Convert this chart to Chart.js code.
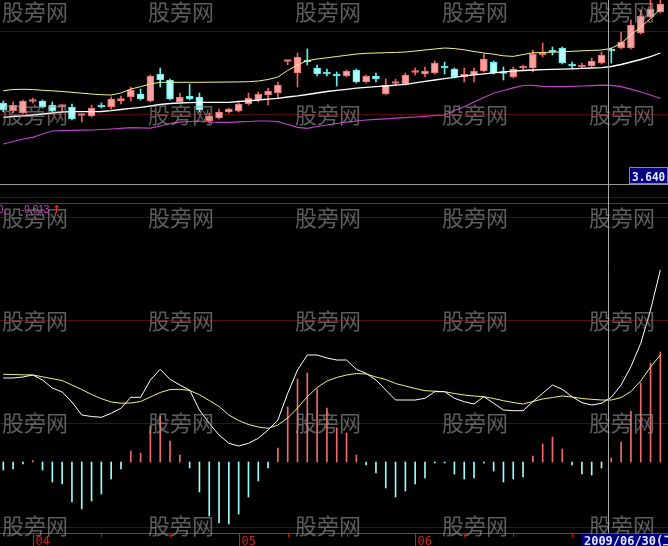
<!DOCTYPE html>
<html><head><meta charset="utf-8">
<script src="https://cdn.jsdelivr.net/npm/chart.js@4"></script>
<style>html,body{margin:0;padding:0;background:#000;overflow:hidden}canvas{display:block}</style>
</head><body>
<canvas id="c" width="668" height="546"></canvas>
<script>
// ---- price candles (one per trading day) ----
const opens = [4.36,4.28,4.26,4.375,4.38,4.34,4.325,4.32,4.235,4.23,
  4.34,4.32,4.38,4.42,4.45,4.38,4.65,4.59,4.37,4.43,
  4.42,4.18,4.21,4.27,4.28,4.35,4.39,4.44,4.46,4.775,
  4.66,4.79,4.71,4.67,4.65,4.63,4.69,4.57,4.63,4.45,
  4.555,4.55,4.665,4.65,4.66,4.73,4.70,4.62,4.64,4.68,
  4.77,4.67,4.62,4.71,4.71,4.84,4.89,4.91,4.75,4.72,
  4.73,4.76,4.90,4.91,4.91,5.06,5.22,5.27];
const highs = [4.38,4.37,4.39,4.41,4.39,4.37,4.34,4.35,4.25,4.34,
  4.36,4.42,4.43,4.52,4.50,4.64,4.71,4.60,4.46,4.55,
  4.46,4.26,4.30,4.31,4.36,4.46,4.47,4.51,4.57,4.79,
  4.86,4.90,4.74,4.70,4.67,4.69,4.70,4.64,4.66,4.60,
  4.60,4.66,4.71,4.72,4.78,4.77,4.71,4.71,4.71,4.85,
  4.78,4.72,4.72,4.74,4.89,4.96,4.92,4.92,4.77,4.76,
  4.81,4.87,4.91,5.07,5.19,5.29,5.41,5.44];
const lows = [4.27,4.26,4.25,4.36,4.31,4.27,4.28,4.19,4.17,4.22,
  4.31,4.30,4.35,4.38,4.39,4.37,4.52,4.39,4.37,4.39,
  4.27,4.16,4.20,4.26,4.27,4.34,4.37,4.34,4.41,4.74,
  4.52,4.74,4.63,4.63,4.53,4.62,4.56,4.56,4.57,4.44,
  4.54,4.54,4.64,4.62,4.65,4.65,4.61,4.57,4.57,4.67,
  4.65,4.59,4.61,4.69,4.67,4.82,4.84,4.75,4.70,4.71,
  4.72,4.75,4.76,4.90,4.90,5.05,5.21,5.26];
const closes = [4.29,4.34,4.38,4.39,4.32,4.28,4.34,4.20,4.25,4.31,
  4.32,4.40,4.403,4.49,4.40,4.63,4.59,4.40,4.42,4.40,
  4.29,4.23,4.27,4.30,4.35,4.41,4.45,4.48,4.54,4.79,
  4.82,4.77,4.65,4.65,4.63,4.68,4.57,4.63,4.60,4.54,
  4.57,4.64,4.68,4.68,4.76,4.71,4.62,4.65,4.68,4.80,
  4.66,4.655,4.70,4.73,4.85,4.86,4.87,4.76,4.73,4.74,
  4.78,4.84,4.88,4.97,5.14,5.23,5.30,5.35];
// ---- Bollinger bands ----
const bollUpper = [4.483,4.495,4.497,4.495,4.487,4.482,4.475,4.467,4.458,4.450,
  4.443,4.440,4.460,4.500,4.523,4.550,4.567,4.567,4.567,4.567,
  4.567,4.568,4.569,4.570,4.571,4.573,4.580,4.595,4.620,4.685,
  4.740,4.783,4.800,4.812,4.825,4.837,4.850,4.857,4.860,4.863,
  4.866,4.870,4.880,4.890,4.900,4.910,4.904,4.892,4.875,4.860,
  4.848,4.832,4.826,4.845,4.862,4.865,4.868,4.872,4.877,4.882,
  4.886,4.890,4.907,4.957,5.040,5.120,5.205,5.300];
const bollMid = [4.217,4.225,4.232,4.240,4.250,4.260,4.270,4.273,4.273,4.273,
  4.275,4.283,4.295,4.306,4.317,4.330,4.345,4.355,4.360,4.364,
  4.367,4.367,4.367,4.367,4.375,4.381,4.390,4.398,4.407,4.420,
  4.431,4.445,4.460,4.475,4.487,4.497,4.508,4.517,4.524,4.530,
  4.538,4.547,4.562,4.576,4.590,4.603,4.617,4.632,4.642,4.652,
  4.662,4.671,4.678,4.685,4.690,4.693,4.696,4.699,4.702,4.706,
  4.710,4.713,4.725,4.745,4.770,4.795,4.823,4.860];
const bollLower = [3.950,3.975,4.000,4.017,4.050,4.080,4.084,4.086,4.088,4.090,
  4.095,4.100,4.107,4.113,4.111,4.108,4.130,4.155,4.168,4.175,
  4.180,4.170,4.167,4.167,4.171,4.175,4.180,4.180,4.174,4.145,
  4.117,4.107,4.125,4.140,4.155,4.168,4.180,4.190,4.196,4.202,
  4.208,4.214,4.220,4.227,4.235,4.240,4.285,4.323,4.370,4.415,
  4.458,4.485,4.512,4.535,4.537,4.527,4.523,4.523,4.526,4.530,
  4.534,4.539,4.537,4.523,4.498,4.470,4.440,4.405];
// ---- MACD ----
const dif = [0.084,0.084,0.085,0.087,0.082,0.074,0.070,0.060,0.047,0.0455,
  0.0447,0.0487,0.0537,0.0647,0.0647,0.082,0.0927,0.0827,0.077,0.072,
  0.052,0.0387,0.027,0.0187,0.016,0.0187,0.0237,0.032,0.042,0.0687,
  0.092,0.107,0.107,0.104,0.102,0.102,0.0927,0.0887,0.082,0.072,
  0.062,0.062,0.062,0.0637,0.0703,0.0703,0.0637,0.0603,0.058,0.0653,
  0.0587,0.052,0.0513,0.0513,0.0603,0.0687,0.077,0.0727,0.0653,0.0593,
  0.057,0.0587,0.0647,0.077,0.0953,0.1187,0.152,0.192];
const dea = [0.0877,0.0875,0.0872,0.087,0.0852,0.0833,0.0815,0.077,0.0725,0.0675,
  0.0633,0.060,0.0588,0.059,0.0605,0.065,0.0695,0.0725,0.0727,0.0715,
  0.0673,0.0615,0.0555,0.047,0.0415,0.0375,0.035,0.0337,0.037,0.044,
  0.054,0.0653,0.0745,0.081,0.0845,0.087,0.0885,0.088,0.085,0.0825,
  0.0785,0.076,0.0735,0.0713,0.0708,0.0703,0.0685,0.067,0.066,0.0653,
  0.0635,0.0613,0.0595,0.058,0.0605,0.063,0.0645,0.066,0.065,0.0635,
  0.0627,0.062,0.062,0.0645,0.0705,0.081,0.095,0.107];
const macdHist = [-0.008,-0.007,-0.002,0.0015,-0.008,-0.020,-0.022,-0.040,-0.047,-0.039,
  -0.032,-0.017,-0.007,0.011,0.009,0.036,0.046,0.021,0.007,-0.006,
  -0.030,-0.054,-0.061,-0.062,-0.052,-0.035,-0.019,-0.006,0.014,0.055,
  0.083,0.089,0.073,0.054,0.034,0.029,0.007,-0.003,-0.011,-0.026,
  -0.035,-0.029,-0.022,-0.016,-0.0005,-0.0005,-0.012,-0.017,-0.016,-0.001,
  -0.009,-0.020,-0.017,-0.015,0.006,0.018,0.025,0.013,-0.003,-0.012,
  -0.013,-0.006,0.004,0.020,0.051,0.079,0.099,0.110];
// ---- axis / labels ----
const monthLabels = ['04','05','06'];
const monthStartIndex = [3,24,42];
const minorTickIndex = [10,17,29,35,47,52,58];
const cursorIndex = 61.65;
const cursorPriceText = '3.640';
const cursorDateText = '2009/06/30(二)';
const macdInfoText = ['0,', '-0.013', '↑'];
const watermarkText = '股旁网';

const idx = opens.map((_, i) => i);
const isUp = idx.map(i => closes[i] >= opens[i]);
const UP_FILL = '#f4a2a2', UP_EDGE = '#f06a6a', DN_FILL = '#b2fcfc', DN_EDGE = '#5cecec';

const deco = {
  id: 'deco',
  beforeDatasetsDraw(chart) {
    const c = chart.ctx;
    c.save();
    const grid = [[31,'#560a0a'],[114,'#560a0a'],[184,'#9a9a9a'],[197,'#560a0a'],[203,'#b01818'],
                  [217,'#560a0a'],[320,'#560a0a'],[423,'#560a0a'],[527,'#560a0a'],[533,'#d01818']];
    c.lineWidth = 1;
    grid.forEach(([y, col]) => { c.strokeStyle = col; c.beginPath(); c.moveTo(0, y + 0.5); c.lineTo(668, y + 0.5); c.stroke(); });
    c.restore();
  },
  afterDatasetsDraw(chart) {
    const c = chart.ctx, xs = chart.scales.x;
    c.save();
    // watermarks
    c.font = '22px "Noto Sans CJK SC"';
    c.fillStyle = 'rgba(150,150,150,0.62)';
    c.textBaseline = 'middle';
    [12,115,218,321,423,526].forEach(y => [2,148,295,442,589].forEach(x => c.fillText(watermarkText, x, y)));
    // crosshair
    const cx = Math.round(xs.getPixelForValue(cursorIndex)) + 0.5;
    c.strokeStyle = '#a8a8a8'; c.lineWidth = 1;
    c.beginPath(); c.moveTo(cx, 0); c.lineTo(cx, 533); c.stroke();
    // bottom axis month marks
    c.strokeStyle = '#d01818';
    minorTickIndex.forEach(i => { const x = Math.round(xs.getPixelForValue(i)) + 0.5; c.beginPath(); c.moveTo(x, 533); c.lineTo(x, 537); c.stroke(); });
    c.textBaseline = 'alphabetic';
    c.font = '12px "DejaVu Sans Mono"';
    c.fillStyle = '#d02020';
    monthStartIndex.forEach((i, k) => {
      const x = Math.round(xs.getPixelForValue(i)) + 0.5;
      c.beginPath(); c.moveTo(x, 533); c.lineTo(x, 546); c.stroke();
      c.fillText(monthLabels[k], x + 2, 545);
    });
    // price box
    c.fillStyle = '#000080'; c.fillRect(629.5, 167.5, 38, 16);
    c.strokeStyle = '#8080d0'; c.strokeRect(629.5, 167.5, 38, 16);
    c.fillStyle = '#e6e6ff'; c.font = 'bold 13px "DejaVu Sans Mono"';
    c.save(); c.translate(632, 181); c.scale(0.85, 1); c.fillText(cursorPriceText, 0, 0); c.restore();
    // date box
    c.fillStyle = '#000080'; c.fillRect(581, 534, 87, 12);
    c.fillStyle = '#e6e6ff'; c.font = 'bold 13px "DejaVu Sans Mono"';
    c.save(); c.translate(584, 545); c.scale(0.92, 1); c.fillText(cursorDateText, 0, 0); c.restore();
    // MACD info text
    c.font = '10px "Liberation Sans"'; c.fillStyle = '#d040d0';
    c.fillText(macdInfoText[0], -2, 213);
    c.fillText(macdInfoText[1], 21, 213);
    c.fillStyle = '#ff3030'; c.font = '11px "DejaVu Sans"';
    c.fillText(macdInfoText[2], 52, 213);
    c.restore();
  }
};

new Chart(document.getElementById('c'), {
  type: 'bar',
  data: {
    datasets: [
      { label: 'wick', yAxisID: 'yp', order: 5, grouped: false, barThickness: 1, minBarLength: 1,
        data: idx.map(i => ({ x: i, y: [lows[i], highs[i]] })),
        backgroundColor: idx.map(i => isUp[i] ? '#f06060' : '#60f0f0'), borderWidth: 0 },
      { label: 'body', yAxisID: 'yp', order: 4, grouped: false, barThickness: 7, minBarLength: 2,
        data: idx.map(i => ({ x: i, y: [opens[i], closes[i]] })),
        backgroundColor: idx.map(i => isUp[i] ? UP_FILL : DN_FILL),
        borderColor: idx.map(i => isUp[i] ? UP_EDGE : DN_EDGE), borderWidth: 1, borderSkipped: false },
      { label: 'hist', yAxisID: 'ym', order: 4, grouped: false, barThickness: 1, minBarLength: 1,
        data: idx.map(i => ({ x: i, y: macdHist[i] })),
        backgroundColor: idx.map(i => macdHist[i] >= 0 ? '#f06a6a' : '#98fcfc'), borderWidth: 0 },
      { type: 'line', label: 'upper', yAxisID: 'yp', order: 1, data: idx.map(i => ({ x: i, y: bollUpper[i] })),
        borderColor: '#f4f48a', borderWidth: 1, pointRadius: 0, tension: 0 },
      { type: 'line', label: 'mid', yAxisID: 'yp', order: 1, data: idx.map(i => ({ x: i, y: bollMid[i] })),
        borderColor: '#ffffff', borderWidth: 1.3, pointRadius: 0, tension: 0 },
      { type: 'line', label: 'lower', yAxisID: 'yp', order: 1, data: idx.map(i => ({ x: i, y: bollLower[i] })),
        borderColor: '#c040c8', borderWidth: 1.2, pointRadius: 0, tension: 0 },
      { type: 'line', label: 'DIF', yAxisID: 'ym', order: 1, data: idx.map(i => ({ x: i, y: dif[i] })),
        borderColor: '#ffffff', borderWidth: 1, pointRadius: 0, tension: 0 },
      { type: 'line', label: 'DEA', yAxisID: 'ym', order: 1, data: idx.map(i => ({ x: i, y: dea[i] })),
        borderColor: '#f0f080', borderWidth: 1, pointRadius: 0, tension: 0 }
    ]
  },
  options: {
    responsive: false, animation: false, devicePixelRatio: 1, events: [],
    layout: { padding: 0 },
    plugins: { legend: { display: false }, tooltip: { enabled: false } },
    scales: {
      x: { type: 'linear', min: -0.3365, max: 67.78, display: false, offset: false },
      yp: { type: 'linear', min: -0.07, max: 5.39, display: false },
      ym: { type: 'linear', min: -0.084, max: 0.462, display: false }
    }
  },
  plugins: [deco]
});
</script>
</body></html>
